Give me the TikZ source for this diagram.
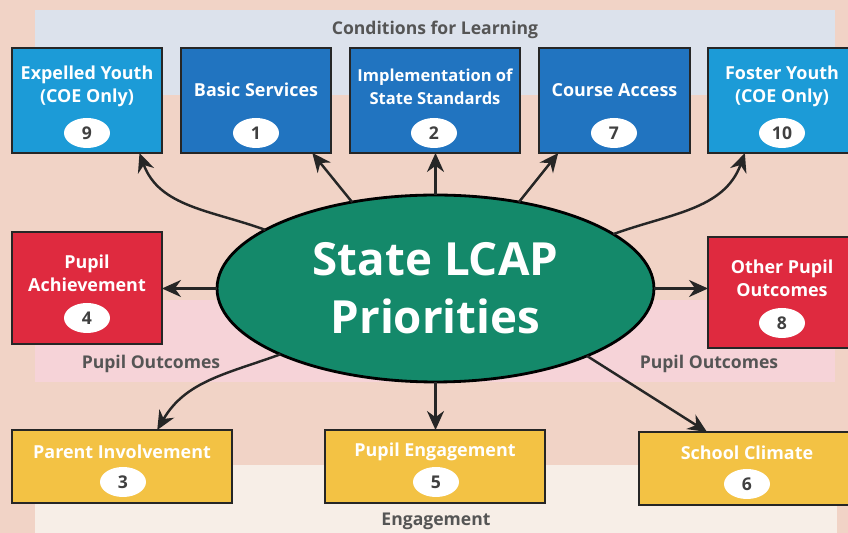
\documentclass[tikz,border=0pt]{standalone}
\usepackage{fontspec}
\setmainfont{Open Sans}
\usetikzlibrary{shapes,arrows.meta,positioning}
\definecolor{bgpeach}{HTML}{F1D3C6}
\definecolor{bgblue}{HTML}{DCE2EC}
\definecolor{bgpink}{HTML}{F6D3D8}
\definecolor{bgcream}{HTML}{F7EEE7}
\definecolor{lightblue}{HTML}{1C9BD7}
\definecolor{darkblue}{HTML}{2174C0}
\definecolor{prioRed}{HTML}{DF2A3F}
\definecolor{prioYellow}{HTML}{F3C244}
\definecolor{prioGreen}{HTML}{14896A}
\definecolor{labelgray}{HTML}{555555}
\tikzset{
	prio/.style={rectangle,draw=black!85,line width=1.1pt,inner sep=0,outer sep=0},
	bluebox/.style={prio,fill=darkblue,minimum width=3cm,minimum height=2.1cm},
	cyanbox/.style={prio,fill=lightblue,minimum width=3cm,minimum height=2.1cm},
	redbox/.style={prio,fill=prioRed,minimum width=3cm,minimum height=2.22cm},
	yellowbox/.style={prio,fill=prioYellow,minimum width=4.4cm,minimum height=1.46cm},
	boxtext/.style={text=white,font=\bfseries\fontsize{10.2}{13}\selectfont,align=center},
	badge/.style={ellipse,fill=white,inner sep=0,minimum width=0.92cm,minimum height=0.6cm,text=black!75,font=\bfseries\fontsize{10}{12}\selectfont},
	grouplabel/.style={text=labelgray,font=\bfseries\fontsize{10}{12}\selectfont},
	centre/.style={ellipse,draw=black,line width=1.6pt,fill=prioGreen,inner sep=0,outer sep=0,minimum width=8.74cm,minimum height=3.74cm,text=white,align=center,font=\bfseries\fontsize{26}{33}\selectfont},
	prioarrow/.style={-{Stealth[length=0.38cm,width=0.34cm]},line width=1.4pt,color=black!85}
}
\begin{document}
\begin{tikzpicture}[x=0.02cm,y=0.02cm]
		\clip (0,0) rectangle (848,533);
		\fill [bgpeach] (0,0) rectangle (848,533);
		\fill [bgblue] (35,438) rectangle (835,523);
		\fill [bgpink] (35,151) rectangle (835,233);
		\fill [bgcream] (35,0) rectangle (837,68);

		\node [grouplabel] (cond) at (435,503) {Conditions for Learning};
		\node [grouplabel] (outL) at (151,169) {Pupil Outcomes};
		\node [grouplabel] (outR) at (709,169) {Pupil Outcomes};
		\node [grouplabel] (eng) at (436,12) {Engagement};

		\node [cyanbox] (b9) at (87,432.5) {};
		\node [bluebox] (b1) at (256,432.5) {};
		\node [bluebox, minimum width=3.4cm] (b2) at (435,432.5) {};
		\node [bluebox, minimum width=3.02cm] (b7) at (614.5,432.5) {};
		\node [cyanbox] (b10) at (783,432.5) {};
		\node [redbox, minimum height=2.24cm] (b4) at (87,245) {};
		\node [redbox] (b8) at (783,240.5) {};
		\node [yellowbox] (b3) at (122,66.5) {};
		\node [yellowbox] (b5) at (435,66.5) {};
		\node [yellowbox] (b6) at (749,64.5) {};

		\node [boxtext] (t9) at (87,446.5) {Expelled Youth\\(COE Only)};
		\node [boxtext] (t1) at (256,443) {Basic Services};
		\node [boxtext, font=\bfseries\fontsize{9.4}{13}\selectfont] (t2) at (435,446.5) {Implementation of\\State Standards};
		\node [boxtext] (t7) at (614.5,443) {Course Access};
		\node [boxtext] (t10) at (782,446.5) {Foster Youth\\(COE Only)};
		\node [boxtext] (t4) at (87,259.5) {Pupil\\Achievement};
		\node [boxtext] (t8) at (782,254.5) {Other Pupil\\Outcomes};
		\node [boxtext] (t3) at (122,81) {Parent Involvement};
		\node [boxtext] (t5) at (435,81) {Pupil Engagement};
		\node [boxtext] (t6) at (747,80) {School Climate};

		\node [badge] (n9) at (87,400) {9};
		\node [badge] (n1) at (256,400) {1};
		\node [badge] (n2) at (434,400) {2};
		\node [badge] (n7) at (614,400) {7};
		\node [badge] (n10) at (782,400) {10};
		\node [badge] (n4) at (87,215) {4};
		\node [badge] (n8) at (782,210) {8};
		\node [badge] (n3) at (123,51) {3};
		\node [badge] (n5) at (436,51) {5};
		\node [badge] (n6) at (747,49) {6};

		\node [centre] (e) at (435.5,244.5) {State LCAP\\Priorities};

		\draw [prioarrow] (e.161) to [out=160, in=-70] (b9.-45);
		\draw [prioarrow] (e.134) to (b1.-43);
		\draw [prioarrow] (e.north) to (e.north |- b2.south);
		\draw [prioarrow] (e.46) to (b7.-137.6);
		\draw [prioarrow] (e.17.6) to [out=20, in=-110] (b10.-126.6);
		\draw [prioarrow] (e.west) to (e.west -| b4.east);
		\draw [prioarrow] (e.east) to (e.east -| b8.west);
		\draw [prioarrow] (e.203.4) to [out=200, in=60] (b3.46);
		\draw [prioarrow] (e.south) to (e.south |- b5.north);
		\draw [prioarrow] (e.-24.6) to (b6.139);
\end{tikzpicture}
\end{document}
